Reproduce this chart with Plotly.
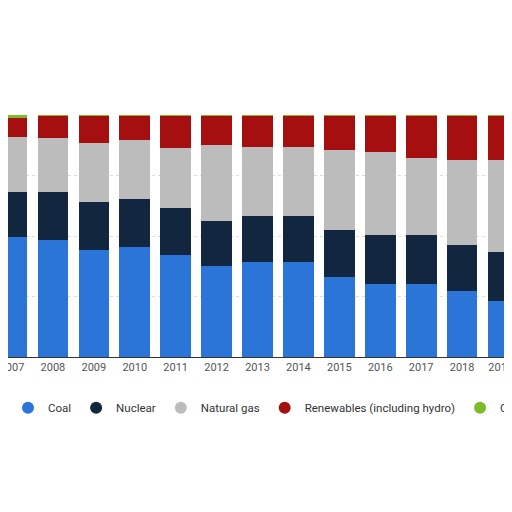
import plotly.graph_objects as go

years = ["2007","2008","2009","2010","2011","2012","2013","2014","2015","2016","2017","2018","2019*"]
coal = [49.5,48.5,44.2,45.3,42.3,37.4,39.3,39.3,33.1,30.1,30.1,27.2,23.1]
nuclear = [18.6,19.6,19.9,20.1,19.2,18.8,19.1,19.1,19.2,20.2,20.2,19.2,20.3]
gas = [22.7,22.5,24.5,24.2,25.0,31.6,28.2,28.3,33.1,34.5,32.1,35.2,38.2]
renew = [7.9,9.1,11.1,10.1,13.2,11.9,13.3,13.1,14.4,15.0,17.4,18.2,18.2]
oil = [1.3,0.3,0.3,0.3,0.3,0.3,0.3,0.2,0.2,0.2,0.2,0.2,0.2]

names = ["Coal","Nuclear","Natural gas","Renewables (including hydro)","Oil"]
colors = ["#2b75d9","#13263f","#bcbcbc","#a50f0f","#7dbb2a"]
series = [coal, nuclear, gas, renew, oil]

fig = go.Figure()
for n, c, s in zip(names, colors, series):
    fig.add_bar(x=list(range(len(years))), y=s, name=n, marker=dict(color=c, line=dict(width=0)), showlegend=False)
for n, c in zip(names, colors):
    fig.add_scatter(x=[None], y=[None], mode="markers", name=n,
                    marker=dict(color=c, size=12, symbol="circle"))

fig.update_layout(
    barmode="stack", bargap=0.25, width=512, height=512,
    margin=dict(l=0, r=0, t=107, b=163, autoexpand=False),
    paper_bgcolor="white", plot_bgcolor="white",
    font=dict(family="Roboto", color="#555555", size=11),
    xaxis=dict(tickmode="array", tickvals=list(range(len(years))), ticktext=years,
               range=[-0.098, 12.415], showline=True, linecolor="#333333", linewidth=1,
               ticks="", showgrid=False, tickfont=dict(size=11, color="#555"),
               automargin=False, ticklabeloverflow="allow"),
    yaxis=dict(range=[0, 100], showticklabels=False, showgrid=True, gridcolor="#dddddd",
               griddash="dot", dtick=25, zeroline=False, automargin=False),
    legend=dict(orientation="h", x=0.0, y=-0.15, xanchor="left", yanchor="top",
                font=dict(size=11.5, color="#333"), itemwidth=30, traceorder="normal",
                tracegroupgap=0, entrywidthmode="pixels", entrywidth=0),
)
fig.write_html("out.html")
